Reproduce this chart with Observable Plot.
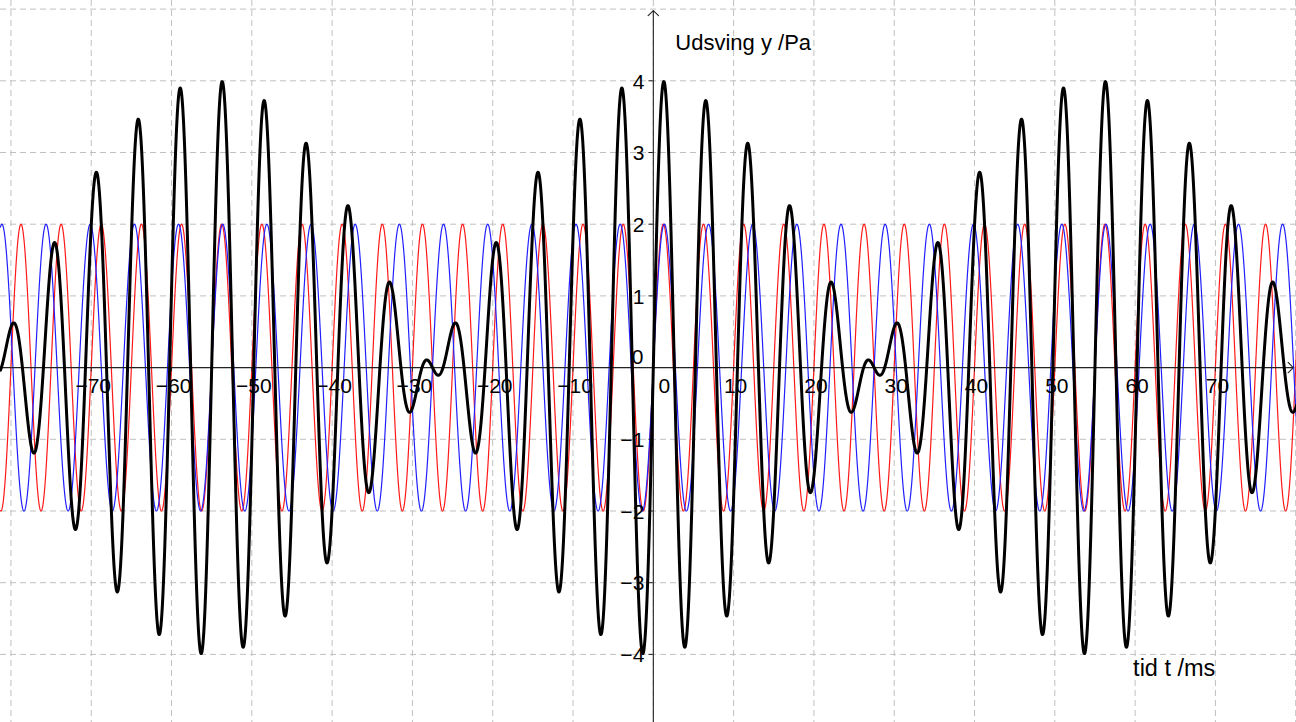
<!DOCTYPE html>
<html>
<head>
<meta charset="utf-8">
<script src="https://cdn.jsdelivr.net/npm/d3@7"></script>
<script src="https://cdn.jsdelivr.net/npm/@observablehq/plot@0.6"></script>
<style>
  html, body { margin: 0; padding: 0; background: #fff; }
  #chart { width: 1296px; height: 722px; overflow: hidden; }
</style>
</head>
<body>
<div id="chart"></div>
<script>
// ---- Data ----
// Two pure tones y = A·sin(2π t / T), and their sum (beats)
const toneNames = ["tone 1 (rød)", "tone 2 (blå)"];
const toneAmplitudesPa = [2, 2];      // amplitude in Pa
const tonePeriodsMs = [5, 5.5];       // period in ms (200 Hz and ≈181.8 Hz)

const xTickValues = [-70, -60, -50, -40, -30, -20, -10, 0, 10, 20, 30, 40, 50, 60, 70];
const yTickValues = [-4, -3, -2, -1, 0, 1, 2, 3, 4];
const xGridValues = [-80, -70, -60, -50, -40, -30, -20, -10, 0, 10, 20, 30, 40, 50, 60, 70, 80];
const yGridValues = [-4, -3, -2, -1, 0, 1, 2, 3, 4, 5];

const xAxisTitle = "tid t /ms";
const yAxisTitle = "Udsving y /Pa";

// ---- View window (data units) ----
const tDomain = [-81.3, 80.1];
const yDomain = [-4.95, 5.12];

// sample the time axis
const step = 0.02;
const times = d3.range(tDomain[0], tDomain[1] + step, step);

const tone = (i, t) => toneAmplitudesPa[i] * Math.sin(2 * Math.PI * t / tonePeriodsMs[i]);
const tone1 = times.map(t => ({t, y: tone(0, t)}));
const tone2 = times.map(t => ({t, y: tone(1, t)}));
const sum = times.map(t => ({t, y: tone(0, t) + tone(1, t)}));

const fmt = v => (v < 0 ? "\u2212" + Math.abs(v) : String(v));

const axisArrows = [
  {x1: tDomain[0], y1: 0, x2: 79.7, y2: 0},
  {x1: 0, y1: yDomain[0], x2: 0, y2: 4.98}
];

const font = "'Liberation Sans', Arial, sans-serif";

const chart = Plot.plot({
  width: 1296,
  height: 722,
  margin: 0,
  x: {domain: tDomain, axis: null},
  y: {domain: yDomain, axis: null},
  style: {background: "#fff", fontFamily: font, color: "#000"},
  marks: [
    // grid
    Plot.ruleX(xGridValues, {stroke: "#c0c0c0", strokeWidth: 1, strokeDasharray: "6,4", strokeOpacity: 1}),
    Plot.ruleY(yGridValues, {stroke: "#c0c0c0", strokeWidth: 1, strokeDasharray: "6,4", strokeOpacity: 1}),
    // tones
    Plot.line(tone1, {x: "t", y: "y", stroke: "#ff1a1a", strokeWidth: 1.2}),
    Plot.line(tone2, {x: "t", y: "y", stroke: "#2020ff", strokeWidth: 1.2}),
    // axes
    Plot.arrow(axisArrows, {x1: "x1", y1: "y1", x2: "x2", y2: "y2", stroke: "#222", strokeWidth: 1.1, headAngle: 90, headLength: 10}),
    // ticks
    Plot.ruleY(yTickValues.filter(v => v !== 0), {y: d => d, x1: 0, x2: -0.55, stroke: "#222", strokeWidth: 1}),
    Plot.ruleX(xTickValues.filter(v => v !== 0), {x: d => d, y1: 0, y2: -0.06, stroke: "#222", strokeWidth: 1}),
    // sum
    Plot.line(sum, {x: "t", y: "y", stroke: "#000", strokeWidth: 3, strokeLinejoin: "round"}),
    // tick labels
    Plot.text(xTickValues.filter(v => v !== 0), {x: d => d, y: 0, text: d => fmt(d), dy: 19, dx: 2, fontSize: 21, fill: "#000"}),
    Plot.text([0], {x: 0, y: 0, text: d => fmt(d), dy: 19, dx: 11, fontSize: 21, fill: "#000"}),
    Plot.text(yTickValues.filter(v => v !== 0), {x: 0, y: d => d, text: d => fmt(d), textAnchor: "end", dx: -9, dy: 1, fontSize: 21, fill: "#000"}),
    Plot.text([0], {x: 0, y: 0, text: d => fmt(d), textAnchor: "end", dx: -10, dy: -10, fontSize: 21, fill: "#000"}),
    // axis titles
    Plot.text([yAxisTitle], {x: 0, y: 4.53, text: d => d, textAnchor: "start", dx: 22, fontSize: 22, fill: "#000"}),
    Plot.text([xAxisTitle], {x: 60, y: -4.2, text: d => d, textAnchor: "start", dx: -2, fontSize: 23.5, fill: "#000"})
  ]
});

document.getElementById("chart").appendChild(chart);
</script>
</body>
</html>
